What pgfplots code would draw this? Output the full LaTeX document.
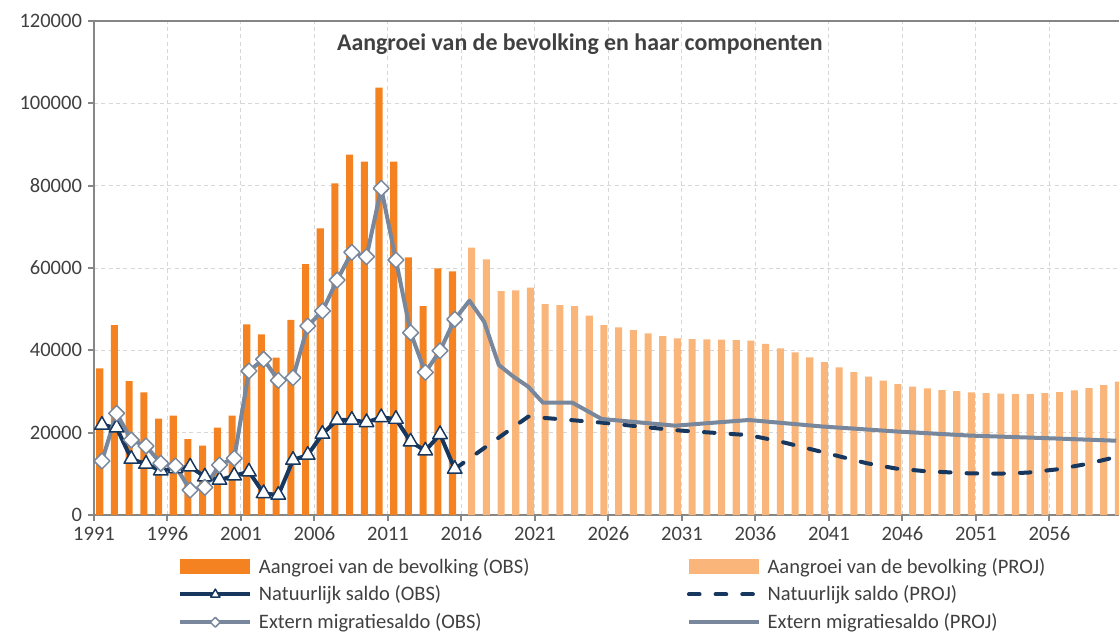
\documentclass[border=0pt]{standalone}
\usepackage{fontspec}
\setmainfont{Carlito}
\usepackage{pgfplots}
\pgfplotsset{compat=1.18}
\definecolor{obs}{RGB}{245,130,32}
\definecolor{proj}{RGB}{250,182,122}
\definecolor{nat}{RGB}{23,55,94}
\definecolor{ext}{RGB}{120,135,155}
\definecolor{axgray}{RGB}{134,134,134}
\definecolor{gridgray}{RGB}{215,215,215}
\definecolor{txt}{RGB}{64,64,64}
\pgfplotsset{
  lineleg/.style={legend image code/.code={\draw[mark repeat=2,mark phase=2,##1,mark size=#1] plot coordinates {(0pt,0pt)(26.25pt,0pt)(52.5pt,0pt)};}},
  barleg/.style={legend image code/.code={\fill[##1] (0pt,-5.6pt) rectangle (52.5pt,5.6pt);}},
}
\begin{document}
\begin{tikzpicture}
\begin{axis}[
  name=ax,
  scale only axis, width=768.75pt, height=370.5pt,
  xmin=1990.46, xmax=2060.19, ymin=0, ymax=120000,
  axis x line*=box, axis y line*=left,
  axis line style={-, draw=axgray, line width=2pt},
  xtick={1990.46,1995.46,2000.46,2005.46,2010.46,2015.46,2020.46,2025.46,2030.46,2035.46,2040.46,2045.46,2050.46,2055.46},
  xticklabels={1991,1996,2001,2006,2011,2016,2021,2026,2031,2036,2041,2046,2051,2056},
  ytick={0,20000,40000,60000,80000,100000,120000},
  scaled y ticks=false,
  yticklabel style={/pgf/number format/fixed,/pgf/number format/1000 sep={}, xshift=-1pt},
  /pgf/number format/assume math mode=true,
  tick label style={font=\fontsize{15.4}{18}\selectfont, text=txt},
  xticklabel style={yshift=-1pt},
  xtick pos=left, ytick pos=left,
  tick align=outside, major tick length=4.5pt,
  tick style={draw=axgray, line width=1.5pt},
  xmajorgrids, ymajorgrids,
  grid style={draw=gridgray, line width=0.75pt, dash pattern=on 3pt off 2.5pt},
  title={Aangroei van de bevolking en haar componenten},
  title style={at={(axis description cs:0.474,0.937)}, anchor=center, font=\bfseries\fontsize{17.9}{20}\selectfont, text=txt},
  legend columns=2,
  legend cell align=left,
  legend style={draw=none, fill=none, at={(axis description cs:0.082,-0.084)}, anchor=north west, inner sep=0pt,
    font=\fontsize{15.4}{18}\selectfont, text=txt, row sep=6.1pt,
    nodes={inner ysep=1pt},
    /tikz/every odd column/.append style={column sep=3pt},
    /tikz/column 2/.append style={column sep=116pt}},
]
% Aangroei OBS
\addplot[ybar, bar width=0.48, bar shift=-0.15, fill=obs, draw=none, barleg] coordinates {
(1991,35630)(1992,46150)(1993,32550)(1994,29800)(1995,23400)(1996,24120)(1997,18460)(1998,16840)
(1999,21210)(2000,24120)(2001,46310)(2002,43890)(2003,38220)(2004,47370)(2005,60970)(2006,69640)
(2007,80570)(2008,87520)(2009,85820)(2010,103790)(2011,85820)(2012,62590)(2013,50770)(2014,59920)(2015,59190)};
\addlegendentry{Aangroei van de bevolking (OBS)}
% Aangroei PROJ
\addplot[ybar, bar width=0.48, bar shift=0.15, fill=proj, draw=none, barleg] coordinates {
(2016,64930)(2017,62100)(2018,54410)(2019,54570)(2020,55220)(2021,51250)(2022,51010)(2023,50770)
(2024,48420)(2025,46150)(2026,45590)(2027,44940)(2028,44130)(2029,43480)(2030,42920)(2031,42750)
(2032,42670)(2033,42590)(2034,42510)(2035,42350)(2036,41540)(2037,40490)(2038,39510)(2039,38300)
(2040,37160)(2041,35870)(2042,34730)(2043,33590)(2044,32620)(2045,31820)(2046,31170)(2047,30770)
(2048,30360)(2049,30120)(2050,29800)(2051,29630)(2052,29470)(2053,29390)(2054,29390)(2055,29630)
(2056,29880)(2057,30280)(2058,30850)(2059,31580)(2060,32380)};
\addlegendentry{Aangroei van de bevolking (PROJ)}
% Natuurlijk saldo OBS
\addplot[draw=nat, line width=3pt, line join=round, mark=triangle*, mark size=6.3pt,
  mark options={solid, fill=white, draw=nat, line width=1.1pt}, lineleg=4pt] coordinates {
(1991,21860)(1992,21200)(1993,13600)(1994,12390)(1995,10770)(1996,11300)(1997,11740)(1998,9300)
(1999,8500)(2000,9550)(2001,10520)(2002,5260)(2003,4860)(2004,13360)(2005,14570)(2006,19670)
(2007,23080)(2008,23080)(2009,22510)(2010,23720)(2011,23310)(2012,17810)(2013,15620)(2014,19590)(2015,11170)};
\addlegendentry{Natuurlijk saldo (OBS)}
% Natuurlijk saldo PROJ
\addplot[draw=nat, line width=3pt, dash pattern=on 8pt off 12pt, line cap=round, line join=round, lineleg=1pt] coordinates {
(2015,11170)(2020,23900)(2025,22450)(2030,20600)(2035,19400)(2037,17970)(2040,15300)(2043,12600)
(2045,11300)(2047,10650)(2050,10120)(2052,10040)(2054,10300)(2056,11100)(2058,12400)(2060,14100)};
\addlegendentry{Natuurlijk saldo (PROJ)}
% Extern migratiesaldo OBS
\addplot[draw=ext, line width=3pt, line join=round, mark=square*, mark size=4.2pt,
  mark options={solid, rotate=45, fill=white, draw=ext, line width=1.1pt}, lineleg=2.6pt] coordinates {
(1991,13120)(1992,24700)(1993,18220)(1994,16760)(1995,12550)(1996,11900)(1997,6070)(1998,6720)
(1999,12150)(2000,13770)(2001,34980)(2002,37820)(2003,32700)(2004,33360)(2005,45910)(2006,49550)
(2007,57080)(2008,63810)(2009,62740)(2010,79350)(2011,61940)(2012,44280)(2013,34660)(2014,39910)(2015,47530)};
\addlegendentry{Extern migratiesaldo (OBS)}
% Extern migratiesaldo PROJ
\addplot[draw=ext, line width=3pt, line join=round, lineleg=1pt] coordinates {
(2015,47530)(2016,52060)(2017,46960)(2018,36430)(2019,33600)(2020,31170)(2021,27290)(2022,27290)
(2023,27290)(2025,23320)(2030,21700)(2035,23080)(2040,21500)(2045,20300)(2050,19300)(2055,18700)(2060,18050)};
\addlegendentry{Extern migratiesaldo (PROJ)}
\end{axis}
\pgfresetboundingbox
\path[use as bounding box] ([shift={(-70.5pt,-88.5pt)}]ax.south west) rectangle ([shift={(0pt,15.75pt)}]ax.north east);
\end{tikzpicture}
\end{document}
